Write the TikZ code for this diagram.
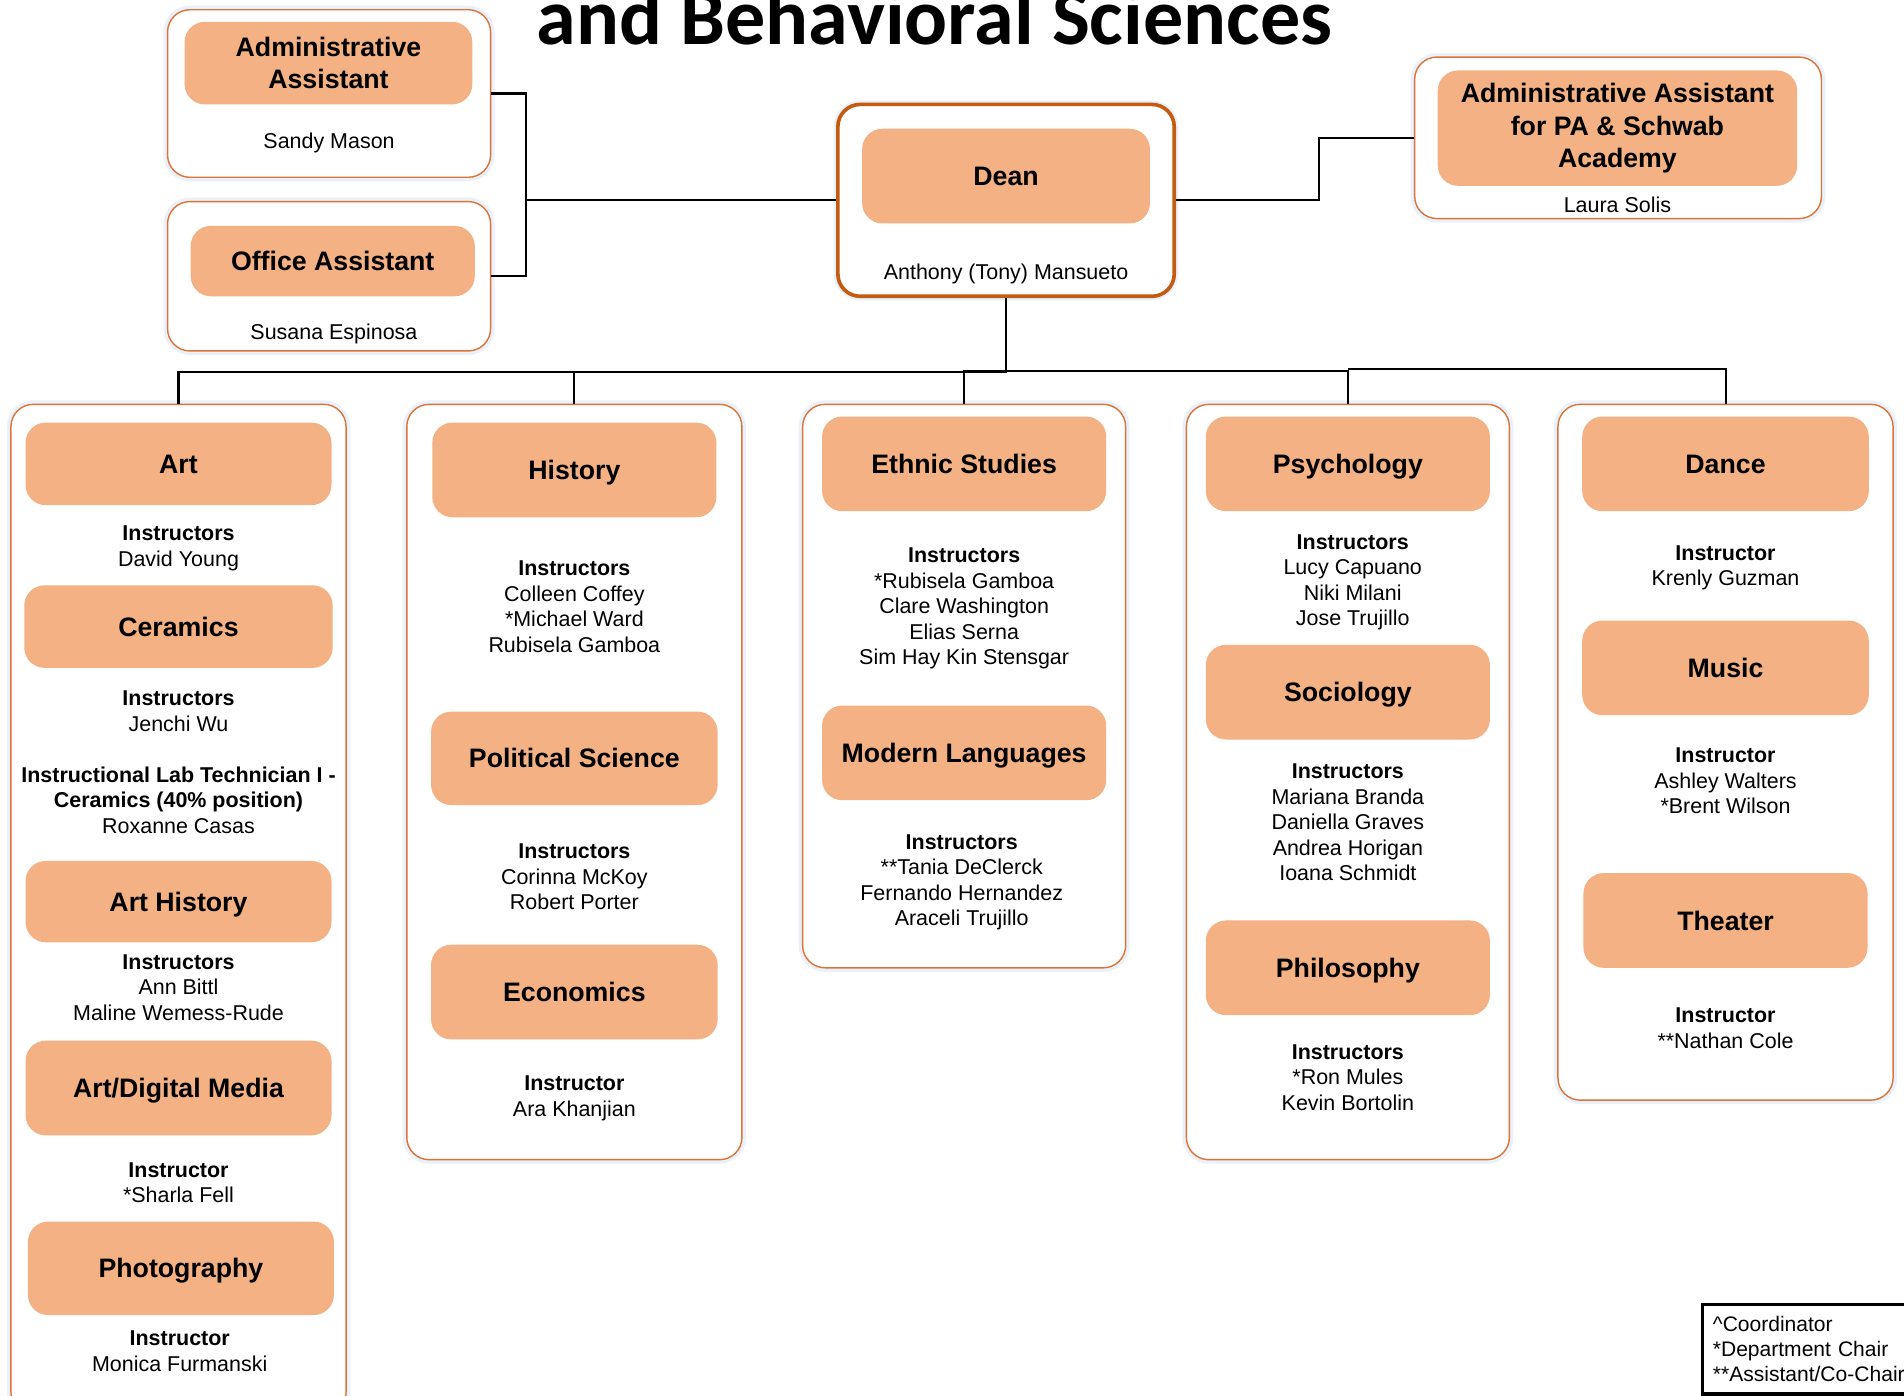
\documentclass[tikz,border=0pt]{standalone}
\usepackage{fontspec}
\setmainfont{Liberation Sans}
\newfontfamily\titlefont{Carlito}
\usepackage{xcolor}
\definecolor{headfill}{RGB}{244,177,131}
\definecolor{boxline}{RGB}{218,117,55}
\definecolor{deanline}{RGB}{197,90,17}
\definecolor{glow}{RGB}{234,241,250}
\tikzset{
  box size/.style 2 args={
    minimum width=#1*0.6pt,
    minimum height=#2*0.6pt
  },
  dept box/.style={
    rectangle,
    rounded corners=11pt,
    draw=boxline,
    line width=0.7pt,
    fill=white,
    inner sep=0pt,
    preaction={draw=glow, line width=4pt}
  },
  dean box/.style={
    dept box,
    draw=deanline,
    line width=1.8pt
  },
  head/.style={
    rectangle,
    rounded corners=10pt,
    fill=headfill,
    inner sep=0pt,
    align=center,
    text height=11.5pt,
    text depth=2pt,
    font=\bfseries\fontsize{13.2}{16}\selectfont
  },
  multi head/.style={
    head,
    text height=,
    text depth=
  },
  staff/.style={
    anchor=base,
    inner sep=0pt,
    align=center,
    font=\fontsize{10.6}{12.6}\selectfont
  },
  key box/.style={
    draw,
    black,
    line width=1.5pt,
    align=left,
    inner xsep=5pt,
    inner ysep=6pt,
    text width=115pt,
    font=\fontsize{10.4}{12.3}\selectfont
  },
  title text/.style={
    inner sep=0pt,
    font=\titlefont\bfseries\fontsize{39.6}{46}\selectfont
  },
  link/.style={
    draw,
    black,
    line width=1pt
  }
}

\begin{document}
\begin{tikzpicture}[x=0.6pt, y=-0.6pt]
  \useasboundingbox (0,0) rectangle (1568,1149);

  \node[title text, anchor=base] (title) at (769.5,37) {and Behavioral Sciences};

  % top row
  \node[dept box, box size={266}{138}] (adminbox) at (271,77) {};
  \node[multi head, box size={237}{68}] (adminhead) at (270.5,52) {Administrative\\Assistant};
  \node[staff] (adminname) at (271,122.3) {Sandy Mason};

  \node[dept box, box size={266}{123}] (officebox) at (271,227.5) {};
  \node[head, box size={234}{58}] (officehead) at (274,215) {Office Assistant};
  \node[staff] (officename) at (275,279.3) {Susana Espinosa};

  \node[dean box, box size={277}{158}] (deanbox) at (828.5,165) {};
  \node[head, box size={237}{78}] (deanhead) at (828.5,145) {Dean};
  \node[staff] (deanname) at (828.5,230.3) {Anthony (Tony) Mansueto};

  \node[dept box, box size={335}{133}] (pabox) at (1332.5,113.5) {};
  \node[multi head, box size={296}{95}] (pahead) at (1332,105.5) {Administrative Assistant\\for PA \& Schwab\\Academy};
  \node[staff] (paname) at (1332,175.3) {Laura Solis};

  % department columns
  \node[dept box, box size={276}{832}] (artcol) at (147,749) {};
  \node[dept box, box size={276}{622}] (histcol) at (473,644) {};
  \node[dept box, box size={266}{464}] (ethncol) at (794,565) {};
  \node[dept box, box size={266}{622}] (psycol) at (1110,644) {};
  \node[dept box, box size={276}{573}] (dancecol) at (1421,619.5) {};

  % art
  \node[head, box size={252}{68}] (arthead) at (147,382) {Art};
  \node[staff] (artstaff) at (147,466.3) {\textbf{Instructors}\\David Young};
  \node[head, box size={254}{68}] (cerahead) at (147,516) {Ceramics};
  \node[staff] (cerastaff) at (147,602.3) {\textbf{Instructors}\\Jenchi Wu};
  \node[staff] (techstaff) at (147,686.3) {\textbf{Instructional Lab Technician I -}\\\textbf{Ceramics (40\% position)}\\Roxanne Casas};
  \node[head, box size={252}{67}] (arthisthead) at (147,742.5) {Art History};
  \node[staff] (arthiststaff) at (147,840.3) {\textbf{Instructors}\\Ann Bittl\\Maline Wemess-Rude};
  \node[head, box size={252}{78}] (digihead) at (147,896) {Art/Digital Media};
  \node[staff] (digistaff) at (147,990.3) {\textbf{Instructor}\\{*}Sharla Fell};
  \node[head, box size={252}{77}] (photohead) at (149,1044.5) {Photography};
  \node[staff] (photostaff) at (148,1129.3) {\textbf{Instructor}\\Monica Furmanski};

  % history
  \node[head, box size={234}{78}] (histhead) at (473,387) {History};
  \node[staff] (histstaff) at (473,537.3) {\textbf{Instructors}\\Colleen Coffey\\{*}Michael Ward\\Rubisela Gamboa};
  \node[head, box size={236}{77}] (polihead) at (473,624.5) {Political Science};
  \node[staff] (polistaff) at (473,749.3) {\textbf{Instructors}\\Corinna McKoy\\Robert Porter};
  \node[head, box size={236}{78}] (econhead) at (473,817) {Economics};
  \node[staff] (econstaff) at (473,919.3) {\textbf{Instructor}\\Ara Khanjian};

  % ethnic studies
  \node[head, box size={234}{78}] (ethnhead) at (794,382) {Ethnic Studies};
  \node[staff] (ethnstaff) at (794,547.3) {\textbf{Instructors}\\{*}Rubisela Gamboa\\Clare Washington\\Elias Serna\\Sim Hay Kin Stensgar};
  \node[head, box size={234}{78}] (langhead) at (794,620) {Modern Languages};
  \node[staff] (langstaff) at (792,762.3) {\textbf{Instructors}\\{**}Tania DeClerck\\Fernando Hernandez\\Araceli Trujillo};

  % psychology
  \node[head, box size={234}{78}] (psyhead) at (1110,382) {Psychology};
  \node[staff] (psystaff) at (1114,515.3) {\textbf{Instructors}\\Lucy Capuano\\Niki Milani\\Jose Trujillo};
  \node[head, box size={234}{78}] (sochead) at (1110,570) {Sociology};
  \node[staff] (socstaff) at (1110,725.3) {\textbf{Instructors}\\Mariana Branda\\Daniella Graves\\Andrea Horigan\\Ioana Schmidt};
  \node[head, box size={234}{78}] (philhead) at (1110,797) {Philosophy};
  \node[staff] (philstaff) at (1110,914.3) {\textbf{Instructors}\\{*}Ron Mules\\Kevin Bortolin};

  % dance
  \node[head, box size={236}{78}] (dancehead) at (1421,382) {Dance};
  \node[staff] (dancestaff) at (1421,482.3) {\textbf{Instructor}\\Krenly Guzman};
  \node[head, box size={236}{78}] (musichead) at (1421,550) {Music};
  \node[staff] (musicstaff) at (1421,670.3) {\textbf{Instructor}\\Ashley Walters\\{*}Brent Wilson};
  \node[head, box size={234}{78}] (theahead) at (1421,758) {Theater};
  \node[staff] (theastaff) at (1421,863.3) {\textbf{Instructor}\\{**}Nathan Cole};

  % key
  \node[key box, anchor=north west] (key) at (1401,1073) {\textasciicircum Coordinator\\{*}Department Chair\\{**}Assistant/Co-Chair};

  % connectors
  \coordinate (leftjoin) at (433,165);
  \coordinate (rightjoin) at (1086,165);
  \coordinate (busleft) at (828.5,306.6);
  \coordinate (busmid) at (828.5,305.3);
  \coordinate (busright) at (1110,303.9);
  \draw[link] (adminbox.east) -| (leftjoin) |- (officebox.east);
  \draw[link] (leftjoin) -- (deanbox.west);
  \draw[link] (deanbox.east) -- (rightjoin) |- (pabox.west);
  \draw[link] (deanbox.south) -- (busleft) -| (artcol.north);
  \draw[link] (busleft) -| (histcol.north);
  \draw[link] (busmid) -| (ethncol.north);
  \draw[link] (busmid) -| (psycol.north);
  \draw[link] (busright) -| (dancecol.north);
\end{tikzpicture}
\end{document}
